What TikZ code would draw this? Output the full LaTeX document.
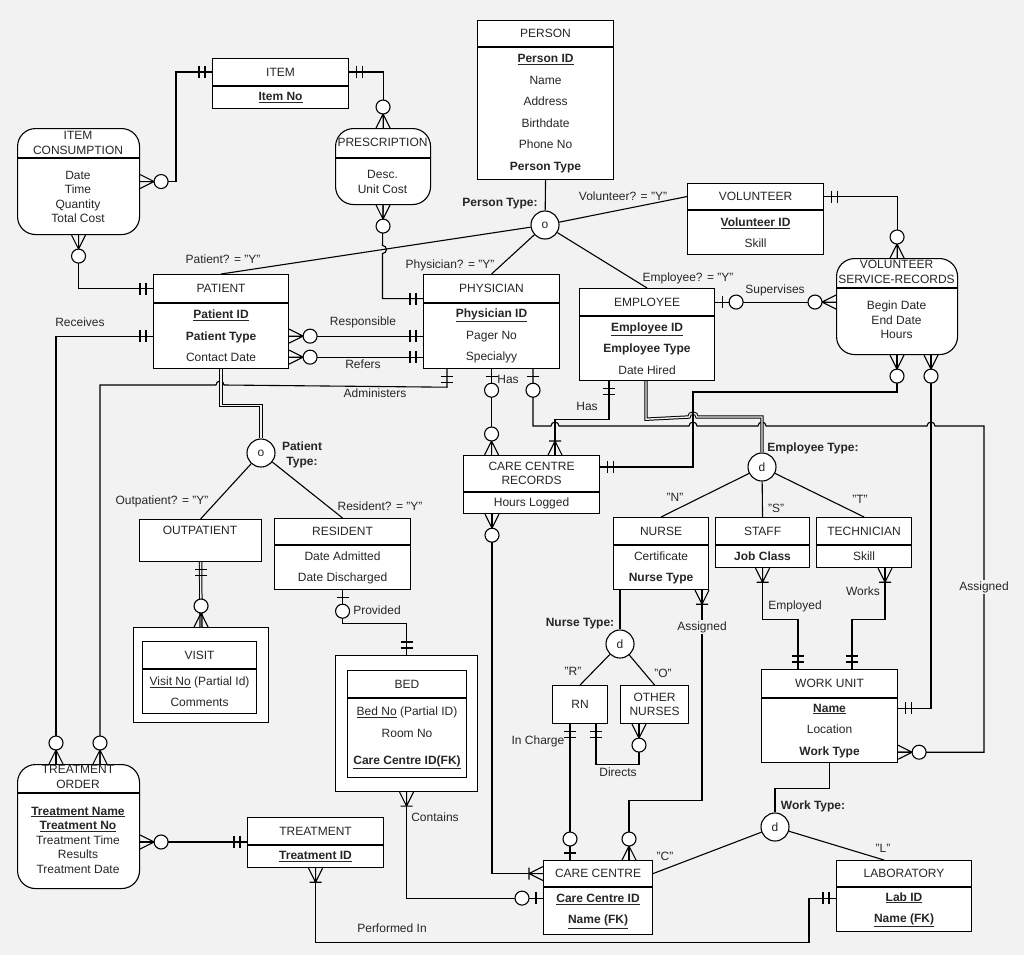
\documentclass[tikz,border=0pt]{standalone}
\usepackage{fontspec}
\setmainfont{Liberation Sans}
\usetikzlibrary{positioning,calc}
\definecolor{PageGray}{RGB}{242,242,242}
\definecolor{InkGray}{RGB}{38,38,38}
\newcommand{\erfont}{\fontsize{12}{14.5}\selectfont}
\newcommand{\erwide}{\fontsize{12}{21.5}\selectfont}
\newcommand{\keyattr}[1]{\underline{\textbf{#1}}}
\tikzset{
  head/.style={draw,fill=white,inner sep=1pt,align=center,font=\erfont,
    text=InkGray,anchor=north west},
  attrs/.style={draw,fill=white,inner sep=1pt,align=center,font=\erwide,
    text=InkGray},
  rbox/.style={draw,fill=white,rounded corners=18,anchor=north west},
  rtext/.style={align=center,font=\erfont,text=InkGray,inner sep=1pt},
  sub/.style={circle,draw,fill=white,minimum size=28,inner sep=0pt,
    font=\erfont,text=InkGray},
  rel/.style={font=\erfont,text=InkGray,inner sep=1pt},
  relbg/.style={rel,fill=PageGray},
  cat/.style={rel,font=\erfont\bfseries,align=center},
  dbl/.style={double=PageGray,double distance=1.4pt,line width=1pt},
  barbar/.pic={\draw (7,-6) -- (7,6) (13,-6) -- (13,6);},
  zeroone/.pic={\draw (7,-6) -- (7,6);
    \draw[fill=white] (21,0) circle[radius=7pt];},
  zeromany/.pic={\draw (0,-7) -- (14,0) -- (0,7) (0,0) -- (14,0);
    \draw[fill=white] (21,0) circle[radius=7pt];},
  onemany/.pic={\draw (0,-7) -- (14,0) -- (0,7) (0,0) -- (14,0)
    (14,-6) -- (14,6);}
}

\begin{document}
\begin{tikzpicture}[x=1pt,y=-1pt,line width=1.1pt]
  \fill[PageGray] (0,0) rectangle (1024,955);
  \useasboundingbox (0,0) rectangle (1024,955);

  % entities
  \node[head,minimum width=136,minimum height=26] (person) at (477,20) {PERSON};
  \node[attrs,minimum width=136,minimum height=132,below=0pt of person] (person-b)
    {\keyattr{Person ID}\\Name\\Address\\Birthdate\\Phone No\\\textbf{Person Type}};

  \node[head,minimum width=136,minimum height=27] (item) at (212,58) {ITEM};
  \node[attrs,minimum width=136,minimum height=22,below=0pt of item] (item-b) {\keyattr{Item No}};

  \node[rbox,minimum width=122,minimum height=106] (ic) at (17,128) {};
  \draw ($(ic.north west)+(0,30)$) -- ++(122,0);
  \node[rtext] (ic-h) at (78,143) {ITEM\\CONSUMPTION};
  \node[rtext] (ic-t) at (78,197) {Date\\Time\\Quantity\\Total Cost};

  \node[rbox,minimum width=95,minimum height=76] (pres) at (335,128) {};
  \draw ($(pres.north west)+(0,30)$) -- ++(95,0);
  \node[rtext] (pres-h) at (382.5,142) {PRESCRIPTION};
  \node[rtext] (pres-t) at (382.5,182) {Desc.\\Unit Cost};

  \node[head,minimum width=136,minimum height=26] (vol) at (687,183) {VOLUNTEER};
  \node[attrs,minimum width=136,minimum height=44,below=0pt of vol] (vol-b)
    {\keyattr{Volunteer ID}\\Skill};

  \node[rbox,minimum width=121,minimum height=96] (vsr) at (836,258) {};
  \draw ($(vsr.north west)+(0,30)$) -- ++(121,0);
  \node[rtext] (vsr-h) at (896.5,272) {VOLUNTEER\\SERVICE-RECORDS};
  \node[rtext] (vsr-t) at (896.5,320) {Begin Date\\End Date\\Hours};

  \node[head,minimum width=135,minimum height=28] (pat) at (153,274) {PATIENT};
  \node[attrs,minimum width=135,minimum height=65,below=0pt of pat] (pat-b)
    {\keyattr{Patient ID}\\\textbf{Patient Type}\\Contact Date};

  \node[head,minimum width=136,minimum height=28] (phy) at (423,274) {PHYSICIAN};
  \node[attrs,minimum width=136,minimum height=65,below=0pt of phy] (phy-b)
    {\keyattr{Physician ID}\\Pager No\\Specialyy};

  \node[head,minimum width=135,minimum height=27] (emp) at (579,288) {EMPLOYEE};
  \node[attrs,minimum width=135,minimum height=64,below=0pt of emp] (emp-b)
    {\keyattr{Employee ID}\\\textbf{Employee Type}\\Date Hired};

  \node[head,minimum width=136,minimum height=36,font=\fontsize{12}{13.5}\selectfont] (ccr)
    at (463,455) {CARE CENTRE\\RECORDS};
  \node[attrs,minimum width=136,minimum height=21,below=0pt of ccr] (ccr-b) {Hours Logged};

  \node[head,minimum width=122,minimum height=42] (outp) at (139,519) {};
  \node[rtext] (outp-t) at (200,530) {OUTPATIENT};

  \node[head,minimum width=136,minimum height=26] (res) at (274,518) {RESIDENT};
  \node[attrs,minimum width=136,minimum height=44,below=0pt of res] (res-b)
    {Date Admitted\\Date Discharged};

  \node[head,minimum width=135,minimum height=95] (visit) at (133,627) {};
  \node[head,minimum width=114,minimum height=27] (visit-h) at (142,641) {VISIT};
  \node[attrs,minimum width=114,minimum height=44,below=0pt of visit-h] (visit-b)
    {\underline{Visit No} (Partial Id)\\Comments};

  \node[head,minimum width=142,minimum height=136] (bed) at (335,655) {};
  \node[head,minimum width=119,minimum height=27] (bed-h) at (347,670) {BED};
  \node[attrs,minimum width=119,minimum height=79,below=0pt of bed-h] (bed-b)
    {\underline{Bed No} (Partial ID)\\Room No\\[6pt]\keyattr{Care Centre ID(FK)}};

  \node[head,minimum width=95,minimum height=27] (nurse) at (613,517) {NURSE};
  \node[attrs,minimum width=95,minimum height=44,below=0pt of nurse] (nurse-b)
    {Certificate\\\textbf{Nurse Type}};
  \node[head,minimum width=94,minimum height=27] (staff) at (715,517) {STAFF};
  \node[attrs,minimum width=94,minimum height=22,below=0pt of staff] (staff-b) {\textbf{Job Class}};
  \node[head,minimum width=95,minimum height=27] (tech) at (816,517) {TECHNICIAN};
  \node[attrs,minimum width=95,minimum height=22,below=0pt of tech] (tech-b) {Skill};

  \node[head,minimum width=55,minimum height=38] (rn) at (552,685) {RN};
  \node[head,minimum width=68,minimum height=38] (oth) at (620,685) {OTHER\\NURSES};

  \node[head,minimum width=136,minimum height=28] (wu) at (761,669) {WORK UNIT};
  \node[attrs,minimum width=136,minimum height=64,below=0pt of wu] (wu-b)
    {\keyattr{Name}\\Location\\\textbf{Work Type}};

  \node[rbox,minimum width=122,minimum height=124] (to) at (17,764) {};
  \draw ($(to.north west)+(0,29)$) -- ++(122,0);
  \node[rtext] (to-h) at (78,777) {TREATMENT\\ORDER};
  \node[rtext] (to-t) at (78,840) {\keyattr{Treatment Name}\\\keyattr{Treatment No}\\
    Treatment Time\\Results\\Treatment Date};

  \node[head,minimum width=136,minimum height=27] (treat) at (247,817) {TREATMENT};
  \node[attrs,minimum width=136,minimum height=22,below=0pt of treat] (treat-b)
    {\keyattr{Treatment ID}};

  \node[head,minimum width=109,minimum height=26] (cc) at (543,860) {CARE CENTRE};
  \node[attrs,minimum width=109,minimum height=47,below=0pt of cc] (cc-b)
    {\keyattr{Care Centre ID}\\\keyattr{Name (FK)}};
  \node[head,minimum width=135,minimum height=26] (lab) at (836,860) {LABORATORY};
  \node[attrs,minimum width=135,minimum height=44,below=0pt of lab] (lab-b)
    {\keyattr{Lab ID}\\\keyattr{Name (FK)}};

  % subtype circles
  \node[sub] (ptype) at (545,225) {o};
  \node[sub] (pst) at (261,453) {o};
  \node[sub] (etype) at (762,467) {d};
  \node[sub] (ntype) at (620,644) {d};
  \node[sub] (wtype) at (775,827) {d};

  % attachment points
  \coordinate (presP) at ($(phy.west)+(0,10)$);
  \coordinate (refP) at ($(pat-b.east)+(0,21)$);
  \coordinate (admP) at ($(phy-b.south west)+(24,0)$);
  \coordinate (asgP) at ($(phy-b.south west)+(110,0)$);
  \coordinate (hasE) at ($(emp-b.south west)+(30,0)$);
  \coordinate (empD) at ($(emp-b.south west)+(67,0)$);
  \coordinate (ccrT) at ($(ccr.north west)+(92,0)$);
  \coordinate (ccrE) at ($(ccr.north east)+(0,12)$);
  \coordinate (ccrS) at ($(ccr-b.south west)+(29,0)$);
  \coordinate (vsrA) at ($(vsr.south west)+(61,0)$);
  \coordinate (vsrB) at ($(vsr.south west)+(95,0)$);
  \coordinate (wuN) at ($(wu-b.north east)+(0,10)$);
  \coordinate (wuA) at ($(wu-b.south east)+(0,-11)$);
  \coordinate (wuS) at ($(wu.north west)+(37,0)$);
  \coordinate (wuT) at ($(wu.north west)+(91,0)$);
  \coordinate (techS) at ($(tech-b.south west)+(69,0)$);
  \coordinate (nType) at ($(nurse-b.south west)+(7,0)$);
  \coordinate (nAsg) at ($(nurse-b.south west)+(89,0)$);
  \coordinate (rnC) at ($(rn.south west)+(18,0)$);
  \coordinate (rnD) at ($(rn.south west)+(44,0)$);
  \coordinate (othS) at ($(oth.south west)+(19,0)$);
  \coordinate (ccC) at ($(cc.north west)+(27,0)$);
  \coordinate (ccN) at ($(cc.north west)+(86,0)$);
  \coordinate (ccL) at ($(cc.south west)+(0,11)$);
  \coordinate (labL) at ($(lab.south west)+(0,11)$);
  \coordinate (labT) at ($(lab.north west)+(48,0)$);
  \coordinate (toR) at ($(to.north west)+(39,0)$);
  \coordinate (toA) at ($(to.north west)+(83,0)$);
  \coordinate (toE) at ($(to.north east)+(0,78)$);

  % connectors
  \draw (item.west) -- ++(-36,0) |- (ic.east);
  \draw (item.east) -| (pres.north);
  \draw (ic.south) |- (pat.west);
  \draw (pres.south) -- (382.5,245.5) arc[start angle=-90,end angle=90,radius=4] |- (presP);
  \draw (person-b.south) -- (ptype);
  \draw (ptype) -- (pat.north);
  \draw (ptype) -- (phy.north);
  \draw (ptype) -- (emp.north);
  \draw (ptype) -- (vol.west);
  \draw (vol.east) -| (vsr.north);
  \draw (emp.east) -- (emp.east -| vsr.west);
  \draw (pat-b.east) -- (pat-b.east -| phy-b.west);
  \draw (refP) -- (refP -| phy-b.west);
  \draw (pat-b.west) -| (toR);
  \draw (admP) -- ++(0,18) -- (224,385) arc[start angle=0,end angle=-180,radius=4] -| (toA);
  \draw[dbl] (pat-b.south) -- ++(0,36) -| (pst.north);
  \draw (pst) -- (outp.north);
  \draw (pst) -- (res.north);
  \draw[dbl] (outp.south) -- (visit.north);
  \draw (res-b.south) -- ++(0,33) -| (bed.north);
  \draw (bed.south) |- (ccL);
  \draw (ccrS) |- (cc.west);
  \draw (phy-b.south) -- (phy-b.south |- ccr.north);
  \draw (hasE) -- ++(0,38) -| (ccrT);
  \draw (asgP) -- (533,426) -- (551,426) arc[start angle=180,end angle=360,radius=4]
    -- (689,426) arc[start angle=180,end angle=360,radius=4]
    -- (758,426) arc[start angle=180,end angle=360,radius=4]
    -- (927,426) arc[start angle=180,end angle=360,radius=4]
    -- (984,426) |- (wuA);
  \draw[dbl] (empD) -- ++(0,38) -- (689,417) arc[start angle=180,end angle=360,radius=4]
    -| (etype.north);
  \draw (vsrA) |- (693,392) |- (ccrE);
  \draw (vsrB) |- (wuN);
  \draw (etype) -- (nurse.north);
  \draw (etype) -- (staff.north);
  \draw (etype) -- (tech.north);
  \draw (nType) -- (ntype);
  \draw (ntype) -- (rn.north);
  \draw (ntype) -- (oth.north);
  \draw (nAsg) -- ++(0,210) -| (ccN);
  \draw (rnC) -- (ccC);
  \draw (rnD) -- ++(0,40) -| (othS);
  \draw (staff-b.south) -- ++(0,51) -| (wuS);
  \draw (techS) -- ++(0,51) -| (wuT);
  \draw (wu-b.south) -- ++(0,25) -| (wtype.north);
  \draw (wtype) -- (cc.east);
  \draw (wtype) -- (labT);
  \draw (labL) -- ++(-27,0) |- ($(treat-b.south)+(0,74)$) -- (treat-b.south);
  \draw (toE) -- (toE -| treat.west);

  % cardinality marks
  \pic[rotate=180] at (item.west) {barbar};
  \pic at (item.east) {barbar};
  \pic at (ic.east) {zeromany};
  \pic[rotate=90] at (pres.north) {zeromany};
  \pic[rotate=-90] at (ic.south) {zeromany};
  \pic[rotate=180] at (pat.west) {barbar};
  \pic[rotate=-90] at (pres.south) {zeromany};
  \pic[rotate=180] at (presP) {barbar};
  \pic at (vol.east) {barbar};
  \pic[rotate=90] at (vsr.north) {zeromany};
  \pic at (emp.east) {zeroone};
  \pic[rotate=180] at (emp.east -| vsr.west) {zeromany};
  \pic at (pat-b.east) {zeromany};
  \pic at (refP) {zeromany};
  \pic[rotate=180] at (pat-b.east -| phy-b.west) {barbar};
  \pic[rotate=180] at (refP -| phy-b.west) {barbar};
  \pic[rotate=180] at (pat-b.west) {barbar};
  \pic[rotate=90] at (toR) {zeromany};
  \pic[rotate=-90] at (admP) {barbar};
  \pic[rotate=90] at (toA) {zeromany};
  \pic[rotate=-90] at (outp.south) {barbar};
  \pic[rotate=90] at (visit.north) {zeromany};
  \pic[rotate=-90] at (res-b.south) {zeroone};
  \pic[rotate=90] at (bed.north) {barbar};
  \pic[rotate=-90] at (bed.south) {onemany};
  \pic[rotate=180] at (ccL) {zeroone};
  \pic[rotate=-90] at (ccrS) {zeromany};
  \pic[rotate=180] at (cc.west) {onemany};
  \pic[rotate=-90] at (phy-b.south) {zeroone};
  \pic[rotate=90] at (phy-b.south |- ccr.north) {zeromany};
  \pic[rotate=-90] at (hasE) {barbar};
  \pic[rotate=90] at (ccrT) {onemany};
  \pic[rotate=-90] at (asgP) {zeroone};
  \pic at (wuA) {zeromany};
  \pic[rotate=-90] at (vsrA) {zeromany};
  \pic at (ccrE) {barbar};
  \pic[rotate=-90] at (vsrB) {zeromany};
  \pic at (wuN) {barbar};
  \pic[rotate=-90] at (nAsg) {onemany};
  \pic[rotate=90] at (ccN) {zeromany};
  \pic[rotate=-90] at (rnC) {barbar};
  \pic[rotate=90] at (ccC) {zeroone};
  \pic[rotate=-90] at (rnD) {barbar};
  \pic[rotate=-90] at (othS) {zeromany};
  \pic[rotate=-90] at (staff-b.south) {onemany};
  \pic[rotate=-90] at (techS) {onemany};
  \pic[rotate=90] at (wuS) {barbar};
  \pic[rotate=90] at (wuT) {barbar};
  \pic[rotate=180] at (labL) {barbar};
  \pic[rotate=-90] at (treat-b.south) {onemany};
  \pic at (toE) {zeromany};
  \pic[rotate=180] at (toE -| treat.west) {barbar};

  % labels
  \node[rel] (l-pat) at (223,259) {Patient? = "Y"};
  \node[rel] (l-phy) at (450,265) {Physician? = "Y"};
  \node[rel] (l-emp) at (688,278) {Employee? = "Y"};
  \node[rel] (l-vol) at (623,196) {Volunteer? = "Y"};
  \node[cat] (l-ptype) at (500,204) {Person Type:};
  \node[rel] (l-sup) at (775,290) {Supervises};
  \node[rel] (l-resp) at (363,322) {Responsible};
  \node[rel] (l-ref) at (363,364) {Refers};
  \node[rel] (l-rec) at (80,322) {Receives};
  \node[rel] (l-adm) at (375,393) {Administers};
  \node[rel] (l-has1) at (508,379) {Has};
  \node[rel] (l-has2) at (587,406) {Has};
  \node[cat] (l-pst) at (302,455) {Patient\\Type:};
  \node[rel] (l-out) at (162,501) {Outpatient? = "Y"};
  \node[rel] (l-res) at (380,506) {Resident? = "Y"};
  \node[rel] (l-prov) at (377,610) {Provided};
  \node[rel] (l-cont) at (435,817) {Contains};
  \node[rel] (l-perf) at (392,928) {Performed In};
  \node[cat] (l-etype) at (813,448) {Employee Type:};
  \node[rel] (l-n) at (675,497) {"N"};
  \node[rel] (l-s) at (776,508) {"S"};
  \node[rel] (l-t) at (860,499) {"T"};
  \node[cat] (l-ntype) at (580,624) {Nurse Type:};
  \node[rel] (l-r) at (573,671) {"R"};
  \node[rel] (l-o) at (663,673) {"O"};
  \node[rel] (l-inch) at (538,741) {In Charge};
  \node[rel] (l-dir) at (618,772) {Directs};
  \node[relbg] (l-asg1) at (702,627) {Assigned};
  \node[rel] (l-empl) at (795,606) {Employed};
  \node[rel] (l-works) at (863,591) {Works};
  \node[relbg] (l-asg2) at (984,587) {Assigned};
  \node[cat] (l-wtype) at (813,806) {Work Type:};
  \node[rel] (l-c) at (665,856) {"C"};
  \node[rel] (l-l) at (883,848) {"L"};
\end{tikzpicture}
\end{document}
